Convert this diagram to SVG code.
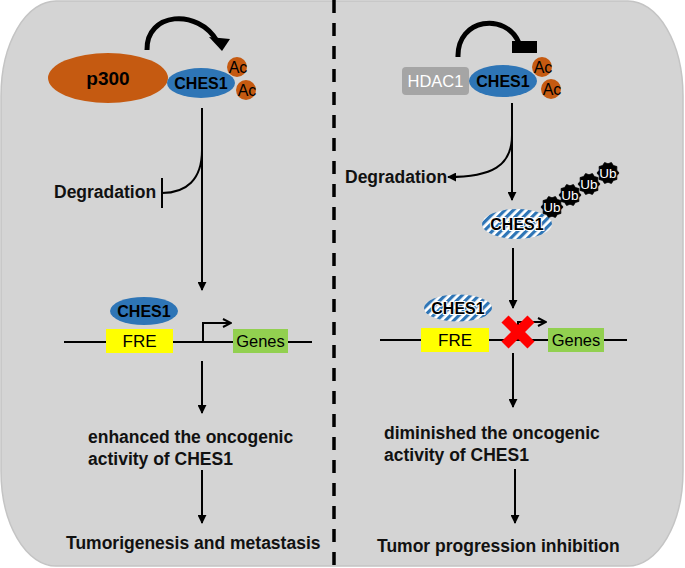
<svg xmlns="http://www.w3.org/2000/svg" width="685" height="568" viewBox="0 0 685 568">
<style>
.t{font-family:"Liberation Sans",Arial,sans-serif;fill:#000}
.b{font-weight:bold}
.lbl{font-family:"Liberation Sans",Arial,sans-serif;font-weight:bold;font-size:17.5px;fill:#111}
.ln{fill:none;stroke:#000;stroke-width:2}
.ac{fill:#c55a11}
.ches{fill:#2e75b6}
.ubt{font-family:"Liberation Sans",Arial,sans-serif;font-size:13.5px;fill:#fff}
</style>
<defs>
<marker id="ah" viewBox="0 0 10 10" refX="9" refY="5" markerWidth="4.5" markerHeight="4.5" orient="auto" markerUnits="strokeWidth">
<path d="M0,0 L10,5 L0,10 Z" fill="#000"/>
</marker>
<marker id="chev" viewBox="0 0 10 10" refX="9" refY="5" markerWidth="5" markerHeight="5" orient="auto" markerUnits="strokeWidth">
<path d="M1,1 L9,5 L1,9" fill="none" stroke="#000" stroke-width="2"/>
</marker>
<pattern id="stripes" patternUnits="userSpaceOnUse" width="6" height="6" patternTransform="rotate(45)">
<rect width="6" height="6" fill="#fff"/>
<rect width="3.2" height="6" fill="#2e75b6"/>
</pattern>
<polygon id="ub" points="11,0 8.75,2.84 8.9,6.47 5.41,7.44 3.4,10.46 0,9.2 -3.4,10.46 -5.41,7.44 -8.9,6.47 -8.75,2.84 -11,0 -8.75,-2.84 -8.9,-6.47 -5.41,-7.44 -3.4,-10.46 0,-9.2 3.4,-10.46 5.41,-7.44 8.9,-6.47 8.75,-2.84" fill="#000" stroke="#000" stroke-width="0.8" stroke-linejoin="round"/>
</defs>

<rect x="1" y="1" width="682" height="565" rx="55" ry="95" fill="#d4d4d4" stroke="#c4c4c4" stroke-width="1.5"/>
<line x1="334" y1="0" x2="334" y2="568" stroke="#000" stroke-width="3.5" stroke-dasharray="13 10"/>

<g id="connectors">
<!-- left -->
<path d="M147,50 C146,12 198,8 217,41" fill="none" stroke="#000" stroke-width="5"/>
<path d="M209,37 L230,39 L222,51 Z" fill="#000"/>
<line class="ln" x1="202" y1="108" x2="202" y2="290" marker-end="url(#ah)"/>
<path class="ln" d="M202,150 C202,180 186,193 162,193"/>
<line class="ln" x1="162" y1="178" x2="162" y2="208"/>
<line class="ln" x1="64" y1="342" x2="312" y2="342"/>
<path class="ln" d="M203,342 L203,323 L231,323" marker-end="url(#chev)"/>
<line class="ln" x1="202" y1="361" x2="202" y2="413" marker-end="url(#ah)"/>
<line class="ln" x1="202" y1="470" x2="202" y2="523" marker-end="url(#ah)"/>
<!-- right -->
<path d="M458,57 C457,18 506,12 519,43" fill="none" stroke="#000" stroke-width="5"/>
<rect x="512" y="41" width="25" height="12" fill="#000"/>
<line class="ln" x1="512" y1="103" x2="512" y2="200" marker-end="url(#ah)"/>
<path class="ln" d="M512,135 C512,166 492,177 448,177" marker-end="url(#ah)"/>
<line class="ln" x1="513" y1="248" x2="513" y2="308" marker-end="url(#ah)"/>
<line class="ln" x1="380" y1="340" x2="627" y2="340"/>
<path class="ln" d="M518,340 L518,322 L546,322" marker-end="url(#chev)"/>
<line class="ln" x1="513" y1="353" x2="513" y2="407" marker-end="url(#ah)"/>
<line class="ln" x1="515" y1="469" x2="515" y2="523" marker-end="url(#ah)"/>
</g>

<g id="p300">
<ellipse cx="108" cy="78" rx="60" ry="25" class="ac"/>
<text class="t b" x="108" y="85" font-size="19" text-anchor="middle">p300</text>
</g>
<g id="ches1-left-top">
<ellipse cx="201" cy="83" rx="34" ry="15" class="ches"/>
<text class="t b" x="201" y="89" font-size="16" text-anchor="middle">CHES1</text>
</g>
<g id="ac-left">
<circle cx="237" cy="67" r="10" class="ac"/>
<text class="t" x="238" y="73" font-size="16" text-anchor="middle">Ac</text>
<circle cx="246" cy="90" r="10" class="ac"/>
<text class="t" x="247" y="96" font-size="16" text-anchor="middle">Ac</text>
</g>
<g id="degradation-left">
<text class="lbl" x="54" y="198">Degradation</text>
</g>
<g id="ches1-left-bottom">
<ellipse cx="144" cy="311" rx="34" ry="14" class="ches"/>
<text class="t b" x="144" y="317" font-size="16" text-anchor="middle">CHES1</text>
</g>
<g id="fre-left">
<rect x="106" y="329" width="67" height="24" fill="#ffff00"/>
<text class="t" x="139.5" y="347" font-size="17" text-anchor="middle">FRE</text>
</g>
<g id="genes-left">
<rect x="233" y="329" width="55" height="24" fill="#92d050"/>
<text class="t" x="260.5" y="347" font-size="16.5" text-anchor="middle">Genes</text>
</g>
<g id="enhanced">
<text class="lbl" x="88" y="443">enhanced the oncogenic</text>
<text class="lbl" x="88" y="465">activity of CHES1</text>
</g>
<g id="tumorigenesis">
<text class="lbl" x="66" y="549">Tumorigenesis and metastasis</text>
</g>

<g id="hdac1">
<rect x="402" y="67" width="67" height="28" rx="4" fill="#a5a5a5"/>
<text class="t" x="435.5" y="87" font-size="16.5" style="fill:#fff" text-anchor="middle">HDAC1</text>
</g>
<g id="ches1-right-top">
<ellipse cx="503" cy="81" rx="34" ry="16" class="ches"/>
<text class="t b" x="503" y="87" font-size="16" text-anchor="middle">CHES1</text>
</g>
<g id="ac-right">
<circle cx="542" cy="67" r="10" class="ac"/>
<text class="t" x="543" y="73" font-size="16" text-anchor="middle">Ac</text>
<circle cx="551" cy="89" r="10" class="ac"/>
<text class="t" x="552" y="95" font-size="16" text-anchor="middle">Ac</text>
</g>
<g id="degradation-right">
<text class="lbl" x="345" y="183">Degradation</text>
</g>
<g id="ches1-right-striped">
<ellipse cx="517" cy="224" rx="35" ry="15" fill="url(#stripes)"/>
<text class="t b" x="517" y="230" font-size="16" text-anchor="middle" stroke="#fff" stroke-width="2" paint-order="stroke">CHES1</text>
</g>
<g id="ub-chain">
<use href="#ub" x="608" y="173"/>
<text class="ubt" x="608" y="178" text-anchor="middle">Ub</text>
<use href="#ub" x="589" y="184"/>
<text class="ubt" x="589" y="189" text-anchor="middle">Ub</text>
<use href="#ub" x="570" y="195"/>
<text class="ubt" x="570" y="200" text-anchor="middle">Ub</text>
<use href="#ub" x="552" y="207"/>
<text class="ubt" x="552" y="212" text-anchor="middle">Ub</text>
</g>
<g id="ches1-right-bottom">
<ellipse cx="458" cy="308" rx="34" ry="13.5" fill="url(#stripes)"/>
<text class="t b" x="458" y="314" font-size="16" text-anchor="middle" stroke="#fff" stroke-width="2" paint-order="stroke">CHES1</text>
</g>
<g id="fre-right">
<rect x="421" y="328" width="68" height="24" fill="#ffff00"/>
<text class="t" x="455" y="346" font-size="17" text-anchor="middle">FRE</text>
</g>
<g id="genes-right">
<rect x="548" y="328" width="56" height="24" fill="#92d050"/>
<text class="t" x="576" y="346" font-size="16.5" text-anchor="middle">Genes</text>
</g>
<g id="red-x">
<line x1="505" y1="319" x2="531" y2="345" stroke="#ff0000" stroke-width="10"/>
<line x1="531" y1="319" x2="505" y2="345" stroke="#ff0000" stroke-width="10"/>
</g>
<g id="diminished">
<text class="lbl" x="384" y="439">diminished the oncogenic</text>
<text class="lbl" x="384" y="461">activity of CHES1</text>
</g>
<g id="tumor-inhibition">
<text class="lbl" x="377" y="552">Tumor progression inhibition</text>
</g>
</svg>
